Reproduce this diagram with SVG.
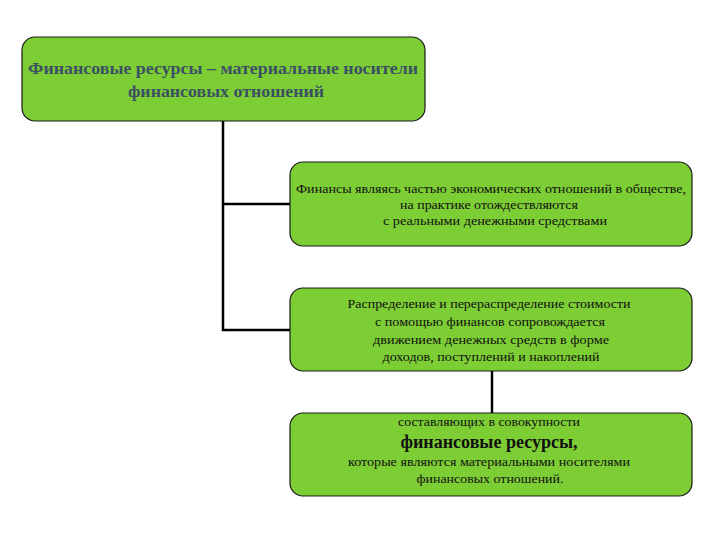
<svg xmlns="http://www.w3.org/2000/svg" width="720" height="540" viewBox="0 0 720 540">
<style>
.box{fill:#7dcd35;stroke:#1a1a1a;stroke-width:1.2}
.t{font-family:"Liberation Serif",serif;font-size:12.5px;fill:#111;text-anchor:middle}
.h{font-family:"Liberation Serif",serif;font-size:16px;font-weight:bold;fill:#3b5064;text-anchor:middle}
.b{font-family:"Liberation Serif",serif;font-size:18px;font-weight:bold;fill:#111;text-anchor:middle}
.c{stroke:#000;stroke-width:2.5;fill:none}
</style>
<rect width="720" height="540" fill="#fff"/>
<g id="connectors">
<path class="c" d="M223 121 V330 H290 M223 204 H290 M492 371 V413"/>
</g>
<g id="node1">
<rect class="box" x="22" y="37" width="403" height="84" rx="13"/>
<text class="h" x="223" y="74" textLength="390" lengthAdjust="spacingAndGlyphs">Финансовые ресурсы – материальные носители</text>
<text class="h" x="226" y="97" textLength="196" lengthAdjust="spacingAndGlyphs">финансовых отношений</text>
</g>
<g id="node2">
<rect class="box" x="290" y="162" width="402" height="84" rx="13"/>
<text class="t" x="491" y="193" textLength="390" lengthAdjust="spacingAndGlyphs">Финансы являясь частью экономических отношений в обществе,</text>
<text class="t" x="489" y="209" textLength="178" lengthAdjust="spacingAndGlyphs">на практике отождествляются</text>
<text class="t" x="495" y="225" textLength="224" lengthAdjust="spacingAndGlyphs">с реальными денежными средствами</text>
</g>
<g id="node3">
<rect class="box" x="290" y="288" width="402" height="83" rx="13"/>
<text class="t" x="489" y="308" textLength="283" lengthAdjust="spacingAndGlyphs">Распределение и перераспределение стоимости</text>
<text class="t" x="490" y="326" textLength="230" lengthAdjust="spacingAndGlyphs">с помощью финансов сопровождается</text>
<text class="t" x="491" y="344" textLength="236" lengthAdjust="spacingAndGlyphs">движением денежных средств в форме</text>
<text class="t" x="491" y="361" textLength="217" lengthAdjust="spacingAndGlyphs">доходов, поступлений и накоплений</text>
</g>
<g id="node4">
<rect class="box" x="290" y="413" width="402" height="83" rx="13"/>
<text class="t" x="489" y="426" textLength="182" lengthAdjust="spacingAndGlyphs">составляющих в совокупности</text>
<text class="b" x="489" y="448" textLength="177" lengthAdjust="spacingAndGlyphs">финансовые ресурсы,</text>
<text class="t" x="489" y="466" textLength="282" lengthAdjust="spacingAndGlyphs">которые являются материальными носителями</text>
<text class="t" x="490" y="483" textLength="147" lengthAdjust="spacingAndGlyphs">финансовых отношений.</text>
</g>
</svg>
